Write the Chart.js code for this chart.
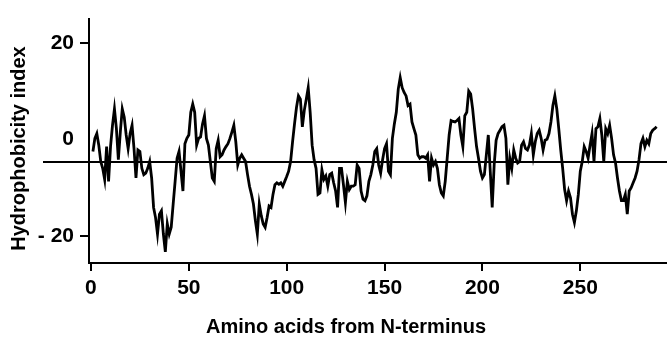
<!DOCTYPE html>
<html><head><meta charset="utf-8">
<script src="https://cdn.jsdelivr.net/npm/chart.js@4"></script>
<style>html,body{margin:0;padding:0;background:#fff}canvas{display:block}</style>
</head><body>
<canvas id="c" width="667" height="345"></canvas>
<script>
// residue positions (1..289) and hydrophobicity values
const residues = Array.from({length: 289}, (_, i) => i + 1);
const hydrophobicity = [
 -2.5, 0.2, 1.2, -1.2, -4.6, -6.0, -8.3, -1.5, -8.7, -1.5,
 2.9, 6.3, 2.2, -4.2, 1.5, 6.3, 4.6, 0.9, -1.9, 1.2,
 2.9, -1.9, -8.0, -2.2, -2.5, -6.0, -7.3, -7.0, -6.0, -4.6,
 -8.0, -14.1, -16.2, -19.6, -15.5, -14.8, -19.6, -23.3, -17.5, -19.6,
 -18.2, -13.4, -8.7, -3.9, -2.5, -6.6, -10.7, -0.9, 0.2, 0.9,
 5.6, 7.3, 5.6, -1.2, 0.2, 0.5, 3.2, 4.9, 0.2, -1.2,
 -4.6, -8.0, -8.7, -1.9, -0.2, -3.6, -3.2, -2.2, -1.5, -0.9,
 0.2, 1.5, 2.9, -0.5, -5.3, -3.9, -3.2, -3.9, -4.6, -7.3,
 -9.7, -11.4, -13.4, -16.8, -19.6, -13.4, -15.8, -17.5, -18.2, -16.2,
 -13.8, -14.1, -11.4, -9.4, -9.0, -9.3, -9.0, -9.7, -8.7, -7.7,
 -6.6, -4.6, -0.5, 3.2, 6.6, 9.0, 8.3, 2.6, 6.0, 8.3,
 10.7, 5.6, -1.2, -4.2, -6.0, -11.4, -11.1, -6.3, -8.3, -7.6,
 -9.7, -7.3, -7.0, -9.0, -10.7, -14.1, -6.0, -6.0, -9.4, -13.1,
 -8.7, -10.4, -9.7, -9.7, -9.4, -5.3, -6.0, -10.7, -12.4, -12.7,
 -11.7, -8.7, -7.3, -5.3, -2.5, -1.9, -5.3, -7.0, -4.2, -1.9,
 -0.9, -6.6, -7.3, 0.2, 3.2, 5.6, 10.4, 12.8, 10.7, 9.7,
 9.0, 7.0, 7.3, 3.6, 2.2, 0.9, -3.2, -3.9, -3.6, -3.6,
 -3.9, -3.2, -8.7, -3.9, -5.3, -4.6, -6.0, -9.4, -11.1, -11.7,
 -8.7, -3.9, 0.9, 3.9, 3.7, 3.6, 3.9, 4.3, 0.9, -1.5,
 4.9, 5.6, 10.0, 9.4, 6.3, 2.2, -1.5, -3.9, -6.6, -8.0,
 -7.3, -3.2, 0.9, -6.6, -14.1, -5.3, -0.2, 1.2, 1.9, 2.6,
 2.9, 0.2, -9.4, -3.9, -6.0, -2.2, -3.9, -4.9, -4.6, -1.2,
 -0.5, -1.9, -2.2, -1.2, 1.2, -3.2, -0.5, 1.2, 1.9, 0.2,
 -2.2, -0.2, 0.0, 1.2, 3.6, 7.0, 9.0, 6.3, 2.2, -2.2,
 -6.0, -10.4, -12.7, -10.7, -12.1, -15.5, -17.2, -14.8, -11.4, -6.6,
 -4.6, -1.5, -2.5, -3.9, -1.2, 1.2, -4.6, 2.2, 2.6, 4.3,
 0.9, -4.6, 2.2, 1.2, 2.9, 0.2, -3.2, -4.9, -8.0, -10.7,
 -12.7, -12.7, -11.4, -15.5, -10.7, -10.0, -9.0, -8.0, -6.6, -4.2,
 -0.9, 0.2, -1.5, -0.2, -0.9, 1.2, 1.9, 2.2, 2.6
];
const xTickValues = [0, 50, 100, 150, 200, 250];
const yTickValues = [-20, 0, 20];
const referenceLevel = -4.7;
const xAxisTitle = 'Amino acids from N-terminus';
const yAxisTitle = 'Hydrophobicity index';

const tickFont = {family: "'Liberation Sans Narrow', 'Liberation Sans', sans-serif", size: 21, weight: 'bold'};
const titleFontCss = "bold 20px 'Liberation Sans', Arial, sans-serif";

const refLinePlugin = {
  id: 'refLine',
  beforeDatasetsDraw(chart) {
    const {ctx, chartArea, scales} = chart;
    const y = scales.y.getPixelForValue(referenceLevel);
    ctx.save();
    ctx.strokeStyle = '#000';
    ctx.lineWidth = 2;
    ctx.beginPath();
    ctx.moveTo(43, y);
    ctx.lineTo(chartArea.right, y);
    ctx.stroke();
    ctx.restore();
  }
};

const axisTitlePlugin = {
  id: 'axisTitles',
  afterDraw(chart) {
    const {ctx} = chart;
    ctx.save();
    ctx.fillStyle = '#000';
    ctx.font = titleFontCss;
    ctx.textAlign = 'center';
    ctx.textBaseline = 'middle';
    ctx.fillText(xAxisTitle, 346, 327);
    ctx.translate(19, 148.5);
    ctx.rotate(-Math.PI / 2);
    ctx.fillText(yAxisTitle, 0, 0);
    ctx.restore();
  }
};

new Chart(document.getElementById('c'), {
  type: 'line',
  data: {
    labels: residues,
    datasets: [{
      data: hydrophobicity,
      borderColor: '#000',
      borderWidth: 2.8,
      pointRadius: 0,
      tension: 0,
      fill: false
    }]
  },
  options: {
    responsive: false,
    animation: false,
    layout: {padding: {top: 15, right: 0, left: 0, bottom: 0}},
    plugins: {legend: {display: false}, tooltip: {enabled: false}},
    scales: {
      x: {
        type: 'linear',
        min: -1,
        max: 294.3,
        afterBuildTicks: s => { s.ticks = xTickValues.map(v => ({value: v})); },
        afterFit: s => { s.height = 82; },
        grid: {display: true, drawOnChartArea: false, drawTicks: true, tickLength: 8, lineWidth: 2, color: '#000'},
        border: {display: true, width: 2, color: '#000'},
        ticks: {color: '#000', font: tickFont, padding: 5, maxRotation: 0, autoSkip: false},
        title: {display: false}
      },
      y: {
        min: -25.6,
        max: 25.0,
        afterBuildTicks: s => { s.ticks = yTickValues.map(v => ({value: v})); },
        afterFit: s => { s.width = 89; },
        grid: {display: true, drawOnChartArea: false, drawTicks: true, tickLength: 9, lineWidth: 2,
               color: c => (c.tick && c.tick.value === 0) ? 'rgba(0,0,0,0)' : '#000'},
        border: {display: true, width: 2, color: '#000'},
        ticks: {color: '#000', font: tickFont, padding: 6,
                callback: v => v < 0 ? '- ' + Math.abs(v) : String(v)},
        title: {display: false}
      }
    }
  },
  plugins: [refLinePlugin, axisTitlePlugin]
});
</script>
</body></html>
